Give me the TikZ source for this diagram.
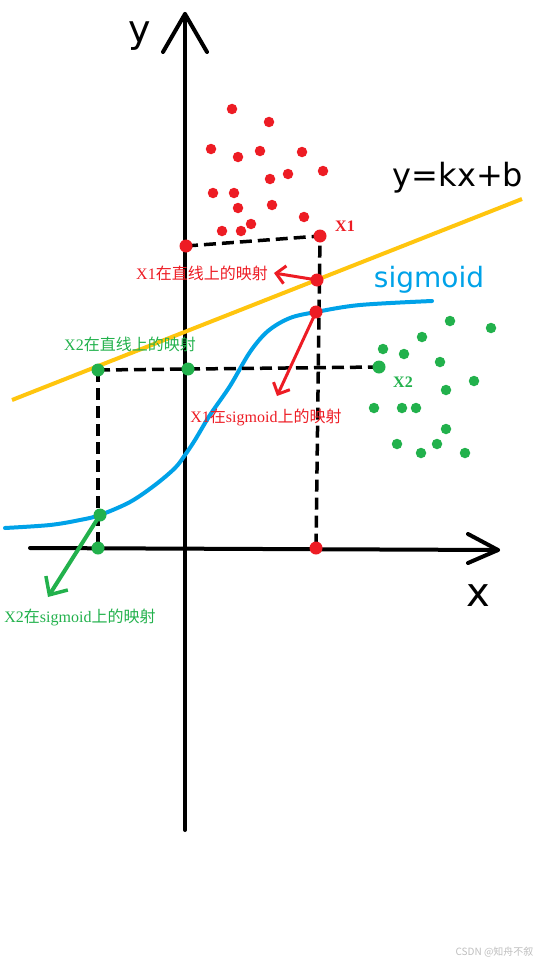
\documentclass[tikz,border=0pt]{standalone}
\usepackage{fontspec}
\setmainfont{Liberation Serif}
\setsansfont{DejaVu Sans}
\newfontfamily\cjk{Noto Sans CJK SC}
\usetikzlibrary{arrows.meta, positioning, calc}
\definecolor{ptred}{RGB}{237, 28, 36}
\definecolor{ptgreen}{RGB}{34, 177, 76}
\definecolor{ptblue}{RGB}{0, 162, 232}
\definecolor{ptgold}{RGB}{255, 197, 14}
\definecolor{markgray}{RGB}{190, 190, 190}

\begin{document}
\begin{tikzpicture}[x=1pt, y=-1pt,
    axis/.style={line width=4pt, black, line cap=round, line join=round},
    guide/.style={line width=3.5pt, black, dash pattern=on 12pt off 6pt},
    dot/.style={circle, fill=#1, inner sep=0pt, minimum size=13pt},
    spot/.style={circle, fill=#1, inner sep=0pt, minimum size=10.5pt},
    hand/.style={font=\sffamily\fontsize{#1}{#1}\selectfont, inner sep=0pt},
    tag/.style={font=\fontsize{16}{18}\selectfont, text=#1, inner sep=1pt},
    mapto/.style={line width=3pt, #1, line cap=round,
      -{Straight Barb[length=9pt, width=18pt, line width=3pt]}}]
  \useasboundingbox (0,0) rectangle (542,963);

  % axes
  \coordinate (ybot) at (185,830);
  \coordinate (ytip) at (185,14);
  \coordinate (xleft) at (30,548);
  \coordinate (xtip) at (498,550);
  \draw[axis] (ybot) -- (ytip);
  \draw[axis] (163,52) -- (ytip) -- (207,52);
  \draw[axis] (xleft) -- (xtip);
  \draw[axis] (468,534) -- (xtip) -- (468,563);
  \node[hand=38] (ylab) at (140,36) {y};
  \node[hand=40] (xlab) at (478,596) {x};

  % line and sigmoid
  \coordinate (lnA) at (12,400);
  \coordinate (lnB) at (522,199);
  \draw[ptgold, line width=4pt] (lnA) -- (lnB);
  \node[hand=32] (lnlab) at (458,178) {y=kx+b};
  \draw[ptblue, line width=4pt, line cap=round] plot[smooth, tension=0.55] coordinates {
    (5,528) (50,525) (80,520) (100,515) (130,502) (155,485) (175,468) (185,455)
    (195,440) (210,415) (230,386) (250,352) (268,331) (290,318) (316,312)
    (360,305) (432,301)};
  \node[hand=28, text=ptblue] (siglab) at (429,280) {sigmoid};

  % projections of X1 and X2
  \coordinate (x1) at (320,236);
  \coordinate (x1y) at (186,246);
  \coordinate (x1line) at (317,280);
  \coordinate (x1sig) at (316,312);
  \coordinate (x1x) at (316,548);
  \coordinate (x2) at (379,367);
  \coordinate (x2line) at (98,370);
  \coordinate (x2y) at (188,369);
  \coordinate (x2sig) at (100,515);
  \coordinate (x2x) at (98,548);
  \draw[guide] (x1y) -- (x1) -- (x1x);
  \draw[guide] (x2line) -- (x2);
  \draw[guide] (x2line) -- (x2x);
  \foreach \p in {x1, x1y, x1line, x1sig, x1x}
    \node[dot=ptred] at (\p) {};
  \foreach \p in {x2, x2line, x2y, x2sig, x2x}
    \node[dot=ptgreen] at (\p) {};

  % clusters
  \foreach \px/\py in {232/109, 269/122, 211/149, 238/157, 260/151, 302/152,
      323/171, 288/174, 270/179, 213/193, 234/193, 238/208, 272/205, 304/217,
      251/224, 241/231, 222/231}
    \node[spot=ptred] at (\px,\py) {};
  \foreach \px/\py in {450/321, 491/328, 422/337, 383/349, 404/354, 440/362,
      474/381, 446/390, 374/408, 402/408, 416/408, 446/429, 397/444, 437/444,
      421/453, 465/453}
    \node[spot=ptgreen] at (\px,\py) {};

  % labels
  \node[tag=ptred, font=\bfseries\fontsize{16}{18}\selectfont] (x1lab) at (345,226) {X1};
  \node[tag=ptgreen, font=\bfseries\fontsize{16}{18}\selectfont] (x2lab) at (403,382) {X2};
  \node[tag=ptred] (x1linelab) at (202,273) {X1{\cjk 在直线上的映射}};
  \node[tag=ptgreen] (x2linelab) at (130,344) {X2{\cjk 在直线上的映射}};
  \node[tag=ptred] (x1siglab) at (266,417) {X1{\cjk 在}sigmoid{\cjk 上的映射}};
  \node[tag=ptgreen] (x2siglab) at (80,617) {X2{\cjk 在}sigmoid{\cjk 上的映射}};

  % mapping arrows
  \coordinate (x1sigend) at (277,396);
  \coordinate (x2sigend) at (48,597);
  \draw[mapto=ptred] (x1line) -- ([xshift=5pt]x1linelab.east);
  \draw[mapto=ptred] (x1sig) -- (x1sigend);
  \draw[mapto=ptgreen, line width=4pt, -{Straight Barb[length=14pt, width=26pt, line width=3.5pt]}]
    (x2sig) -- (x2sigend);

  \node[text=markgray, font=\cjk\fontsize{10}{12}\selectfont, anchor=east] (mark) at (537,952) {CSDN @知舟不叙};
\end{tikzpicture}
\end{document}
